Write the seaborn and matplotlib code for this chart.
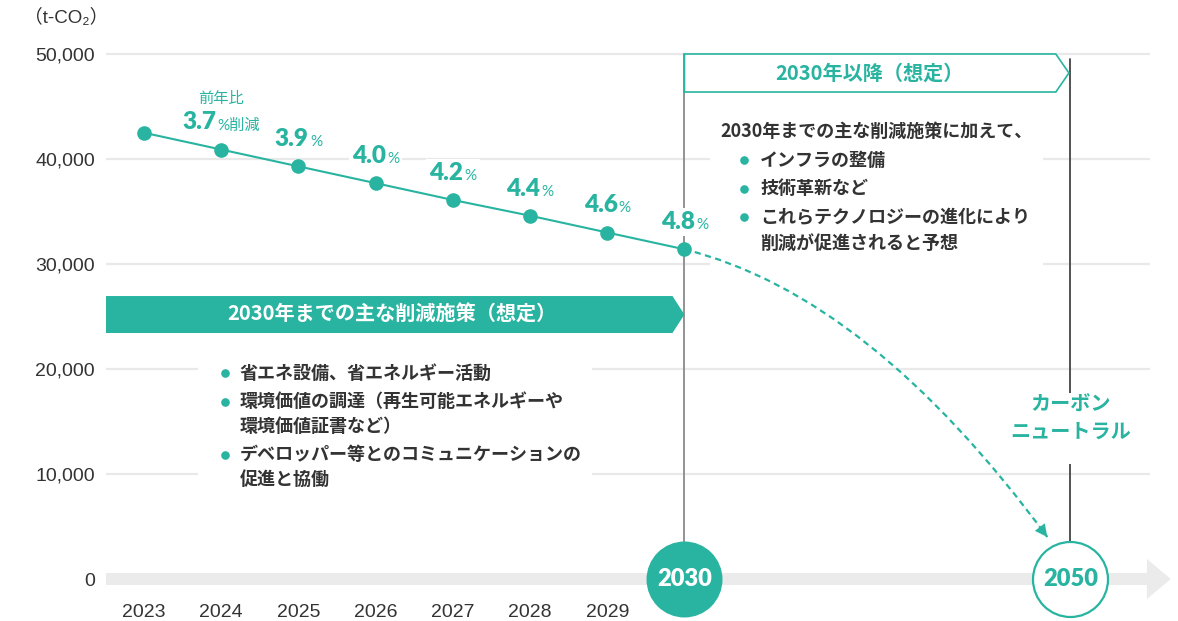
import matplotlib
matplotlib.use("Agg")
import matplotlib.pyplot as plt
import seaborn as sns
import numpy as np
import pandas as pd
from matplotlib.patches import Polygon, Rectangle, PathPatch
from matplotlib.path import Path
from matplotlib.offsetbox import TextArea, HPacker, AnnotationBbox
from matplotlib.ticker import StrMethodFormatter

# ---------------- data ----------------
years = ["2023", "2024", "2025", "2026", "2027", "2028", "2029", "2030"]
emissions = [42500, 40900, 39300, 37700, 36100, 34600, 33000, 31400]  # t-CO2
reduction_pct = ["3.7", "3.9", "4.0", "4.2", "4.4", "4.6", "4.8"]     # vs previous year, 2024-2030
milestones = ["2030", "2050"]
y_ticks = [0, 10000, 20000, 30000, 40000, 50000]
unit_label = "（t-CO₂）"

banner_2030 = "2030年までの主な削減施策（想定）"
banner_after = "2030年以降（想定）"
measures_2030 = [
    ["省エネ設備、省エネルギー活動"],
    ["環境価値の調達（再生可能エネルギーや", "環境価値証書など）"],
    ["デベロッパー等とのコミュニケーションの", "促進と協働"],
]
after_intro = "2030年までの主な削減施策に加えて、"
measures_after = [
    ["インフラの整備"],
    ["技術革新など"],
    ["これらテクノロジーの進化により", "削減が促進されると予想"],
]
goal_label = "カーボン\nニュートラル"

# ---------------- style ----------------
TEAL = "#28b4a0"
DARK = "#333333"
GRID = "#e9e9e9"
NUM_FONT = ["Lato", "DejaVu Sans"]
TICK_FONT = ["Liberation Sans", "DejaVu Sans"]

sns.set_theme(style="white")
plt.rcParams["font.family"] = ["Noto Sans CJK JP", "DejaVu Sans"]

fig = plt.figure(figsize=(11.78, 6.21), dpi=100)
ax = fig.add_axes([106 / 1178, 0, 1044 / 1178, 591 / 621])

pos = np.arange(len(years))
df = pd.DataFrame({"pos": pos, "year": years, "emissions": emissions})
pos_2030 = pos[-1]
pos_2050 = pos_2030 + 5          # compressed gap on the time axis
milestone_pos = [pos_2030, pos_2050]

# emissions trend
sns.lineplot(data=df, x="pos", y="emissions", ax=ax, color=TEAL, linewidth=1.5,
             marker="o", markersize=10.5, markeredgewidth=0, zorder=3)

ax.set_xlim(-0.492, 13.03)
ax.set_ylim(-4000, 52286)
ax.set_xlabel("")
ax.set_ylabel("")
ax.set_xticks([])
ax.set_yticks(y_ticks)
ax.yaxis.set_major_formatter(StrMethodFormatter("{x:,.0f}"))
ax.tick_params(axis="y", length=0, pad=8, labelsize=14, labelcolor=DARK)
for lbl in ax.get_yticklabels():
    lbl.set_fontfamily(TICK_FONT)
ax.yaxis.grid(True, color=GRID, linewidth=1.6)
ax.xaxis.grid(False)
ax.set_axisbelow(True)
for s in ax.spines.values():
    s.set_visible(False)

# timeline band with arrow head along zero
band_h, head_h = 571, 1905
x0, xb, xt = -0.492, 12.99, 13.30
band = Polygon([(x0, -band_h), (xb, -band_h), (xb, -head_h), (xt, 0),
                (xb, head_h), (xb, band_h), (x0, band_h)],
               closed=True, fc="#ebebeb", ec="none", zorder=1.5, clip_on=False)
ax.add_patch(band)

# year labels under the band
for p, yr in zip(pos[:-1], years[:-1]):
    ax.text(p, -3200, yr, ha="center", va="center", fontsize=14,
            color=DARK, family=TICK_FONT)

# vertical guides at 2030 and 2050
ax.plot([pos_2030, pos_2030], [50000, 0], color="#8a8a8a", lw=1.3, zorder=1)
ax.plot([pos_2050, pos_2050], [49500, 0], color="#444444", lw=1.3, zorder=1)

# milestone circles
ax.plot([pos_2030], [0], "o", ms=54.7, mfc=TEAL, mec=TEAL, mew=0, zorder=5, clip_on=False)
ax.plot([pos_2050], [0], "o", ms=54, mfc="white", mec=TEAL, mew=1.6, zorder=5, clip_on=False)
ax.text(pos_2030, 0, milestones[0], ha="center", va="center", fontsize=17,
        weight=800, color="white", family=NUM_FONT, zorder=6)
ax.text(pos_2050, 0, milestones[1], ha="center", va="center", fontsize=17,
        weight=800, color=TEAL, family=NUM_FONT, zorder=6)

# white panels behind the text blocks
for (xa, xbnd, ya, yb) in [(7.33, 11.65, 29600, 44500),
                           (0.70, 5.80, 8000, 22300),
                           (11.09, 12.88, 10950, 17700)]:
    ax.add_patch(Rectangle((xa, ya), xbnd - xa, yb - ya, fc="white", ec="none", zorder=2))

# banner: measures up to 2030
ban = Polygon([(x0, 26950), (6.845, 26950), (7.0, 25190), (6.845, 23430), (x0, 23430)],
              closed=True, fc=TEAL, ec="none", zorder=3, clip_on=False)
ax.add_patch(ban)
ax.text(3.21, 25190, banner_2030, ha="center", va="center", color="white",
        fontsize=14.5, weight="bold", zorder=4)

# outlined banner: after 2030
ban2 = Polygon([(7.0, 50000), (11.81, 50000), (11.98, 48190), (11.81, 46380), (7.0, 46380)],
               closed=True, fc="white", ec=TEAL, lw=1.2, zorder=3)
ax.add_patch(ban2)
ax.text(9.40, 48190, banner_after, ha="center", va="center", color=TEAL,
        fontsize=14.5, weight="bold", zorder=4)

# bullet lists
def bullet_block(items, x_dot, x_txt, y_start, line_gap, item_gap):
    y = y_start
    for lines in items:
        ax.plot([x_dot], [y], "o", ms=6.2, color=TEAL, mew=0, zorder=4)
        for k, line in enumerate(lines):
            ax.text(x_txt, y, line, ha="left", va="center", fontsize=13,
                    weight="bold", color=DARK, zorder=4)
            if k < len(lines) - 1:
                y -= line_gap
        y -= item_gap

ax.text(7.47, 42600, after_intro, ha="left", va="center", fontsize=13,
        weight="bold", color=DARK, zorder=4)
bullet_block(measures_after, 7.77, 7.98, 39900, 2450, 2730)
bullet_block(measures_2030, 1.05, 1.24, 19600, 2350, 2700)

# goal label
ax.text(pos_2050, 15350, goal_label, ha="center", va="center", color=TEAL,
        fontsize=14.5, weight="bold", linespacing=1.3, zorder=4)

# reduction-rate labels above each point
for i, pct in enumerate(reduction_pct, start=1):
    suffix = "%削減" if i == 1 else "%"
    num = TextArea(pct, textprops=dict(color=TEAL, size=17.5, weight=800, family=NUM_FONT))
    unit = TextArea(suffix, textprops=dict(color=TEAL, size=11,
                                           family=["Lato", "Noto Sans CJK JP"]))
    box = HPacker(children=[num, unit], align="baseline", pad=0, sep=1)
    ab = AnnotationBbox(box, (pos[i], emissions[i]), xybox=(0, 19.5),
                        xycoords="data", boxcoords="offset points", frameon=True,
                        bboxprops=dict(fc="white", ec="none"), pad=0.2, zorder=4)
    ax.add_artist(ab)
ax.annotate("前年比", (pos[1], emissions[1]), xytext=(0, 36.5), textcoords="offset points",
            ha="center", va="center", color=TEAL, fontsize=11, zorder=4)

# dashed projection from 2030 towards net zero in 2050
p0 = (pos_2030, emissions[-1])
p1 = (9.40, 27000)
p2 = (11.70, 4000)
curve = Path([p0, p1, p2], [Path.MOVETO, Path.CURVE3, Path.CURVE3])
ax.add_patch(PathPatch(curve, fill=False, ec=TEAL, lw=1.6,
                       linestyle=(0, (2.8, 2.0)), zorder=3.5))
t = 0.93
pt = tuple((1 - t) ** 2 * np.array(p0) + 2 * t * (1 - t) * np.array(p1) + t ** 2 * np.array(p2))
ax.annotate("", xy=p2, xytext=pt,
            arrowprops=dict(arrowstyle="-|>", color=TEAL, lw=0.1, mutation_scale=22,
                            shrinkA=0, shrinkB=0), zorder=3.5)

# unit
fig.text(24 / 1178, 1 - 18 / 621, unit_label, ha="left", va="center", fontsize=13.5,
         color=DARK, family=["Liberation Sans", "Noto Sans CJK JP", "DejaVu Sans"])

fig.savefig("out.png", dpi=100)
